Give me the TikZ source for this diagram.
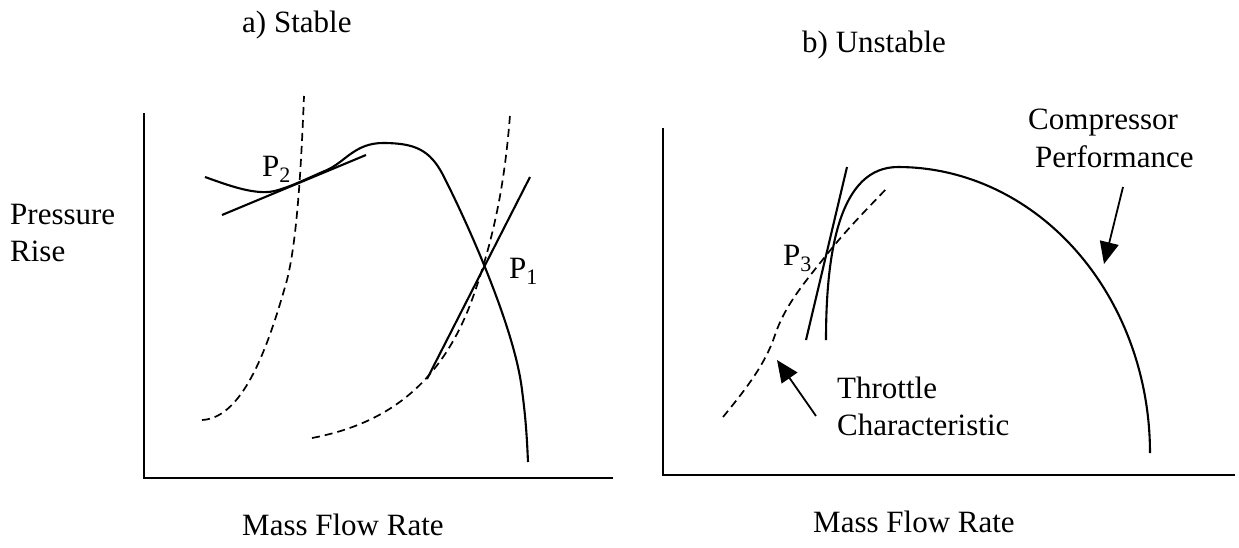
\documentclass[tikz,border=0pt]{standalone}
\usepackage{fontspec}
\setmainfont{Liberation Serif}
\usetikzlibrary{arrows.meta}
\newcommand{\pts}[1]{P\raisebox{-0.2em}{\fontsize{22}{22}\selectfont #1}}
\tikzset{
  lbl/.style={font=\fontsize{31}{36}\selectfont, inner sep=0pt, anchor=base west},
  axisline/.style={line width=2.1pt},
  curve/.style={line width=2.1pt},
  throttle/.style={line width=1.7pt, dash pattern=on 8pt off 5pt},
  pointer/.style={line width=1.8pt, -{Triangle[length=22pt,width=19pt]}}
}
\begin{document}
\begin{tikzpicture}[x=1pt,y=-1pt]
\useasboundingbox (0,0) rectangle (1239,547);
% ---------- a) Stable ----------
\node[lbl] (ta) at (242,32) {a) Stable};
\node[lbl] (yl1) at (10,224) {Pressure};
\node[lbl] (yl2) at (10,261) {Rise};
\node[lbl] (xl1) at (242,535) {Mass Flow Rate};
\coordinate (aO) at (144,478);
\coordinate (aY) at (144,113);
\coordinate (aX) at (613,478);
\draw[axisline] (aY) -- (aO) -- (aX);
% compressor characteristic
\draw[curve] (205,177) .. controls (230,186) and (250,193) .. (268,192)
  .. controls (283,191) and (310,177) .. (327,170)
  .. controls (345,162) and (355,143) .. (383,143)
  .. controls (415,143) and (430,150) .. (443,175)
  .. controls (470,228) and (515,330) .. (522,390)
  .. controls (526,420) and (527,440) .. (528,462);
% throttle lines
\draw[throttle] (202,420) .. controls (245,418) and (270,340) .. (287,280)
  .. controls (297,240) and (301,170) .. (304,96);
\draw[throttle] (312,438) .. controls (380,425) and (440,390) .. (473,297)
  .. controls (495,235) and (505,180) .. (510,115);
% tangents
\coordinate (t2a) at (222,215);
\coordinate (t2b) at (366,155);
\draw[curve] (t2a) -- (t2b);
\coordinate (t1a) at (427,379);
\coordinate (t1b) at (530,177);
\draw[curve] (t1a) -- (t1b);
\node[lbl] (p2) at (262,176) {\pts{2}};
\node[lbl] (p1) at (509,278) {\pts{1}};
% ---------- b) Unstable ----------
\node[lbl] (tb) at (802,52) {b) Unstable};
\node[lbl] (xl2) at (813,532) {Mass Flow Rate};
\coordinate (bO) at (663,475);
\coordinate (bY) at (663,128);
\coordinate (bX) at (1235,475);
\draw[axisline] (bY) -- (bO) -- (bX);
\draw[curve] (826,340) .. controls (826,250) and (840,167) .. (898,167)
  -- plot[domain=90:0, samples=60, smooth] ({898+252*cos(\x)}, {453-286*sin(\x)});
\draw[throttle] (723,417) .. controls (745,390) and (765,365) .. (775,335)
  .. controls (785,305) and (805,282) .. (828,253)
  .. controls (848,228) and (868,208) .. (888,187);
\coordinate (t3a) at (806,340);
\coordinate (t3b) at (847,167);
\draw[curve] (t3a) -- (t3b);
\node[lbl] (p3) at (783,265) {\pts{3}};
\node[lbl] (cp1) at (1028,129) {Compressor};
\node[lbl] (cp2) at (1035,167) {Performance};
\node[lbl] (th1) at (837,398) {Throttle};
\node[lbl] (th2) at (837,435) {Characteristic};
\coordinate (cpA) at (1123,187);
\coordinate (cpB) at (1104,264);
\draw[pointer] (cpA) -- (cpB);
\coordinate (thA) at (816,416);
\coordinate (thB) at (777,360);
\draw[pointer] (thA) -- (thB);
\end{tikzpicture}
\end{document}
